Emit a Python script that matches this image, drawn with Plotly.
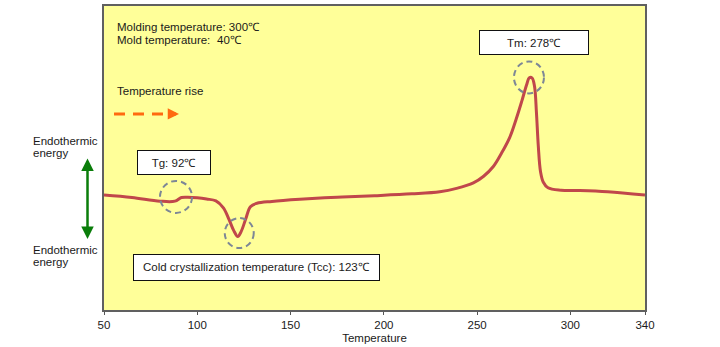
import plotly.graph_objects as go

# ---- data ----
temperature = [50, 65, 80, 88, 91.5, 95, 100, 105, 110, 114, 117, 119.5, 121.7, 123.5, 126, 128.5,
               132, 140, 155, 175, 195, 215, 230, 239, 248, 253.5, 258.7, 263, 267.5, 271, 274, 276.5,
               278, 279.5, 280.8, 281.8, 282.8, 284, 285.5, 288, 295, 305, 320, 340]
heat_flow = [37.8, 37.0, 35.8, 35.8, 37.0, 37.1, 36.9, 36.5, 35.9, 33.6, 29.8, 26.2, 24.2, 25.8, 30.0, 34.0,
             35.1, 35.7, 36.4, 37.1, 37.6, 38.2, 38.9, 40.0, 41.8, 44.0, 47.2, 51.5, 56.8, 62.9, 68.8, 74.0,
             76.4, 76.3, 73.5, 65.0, 54.0, 45.5, 42.0, 40.2, 39.4, 39.3, 38.9, 37.8]
tick_vals = [50, 100, 150, 200, 250, 300, 340]
tick_text = ["50", "100", "150", "200", "250", "300", "340"]

# highlighted events: (temperature, value) of circle centre
tg_point = (88.6, 37.2)
tcc_point = (122.5, 25.3)
tm_point = (277.8, 76.5)

W, H = 720, 347
L, R, T, B = 104, 75, 4, 36
PW, PH = W - L - R, H - T - B

def px(x):
    return (x - L) / PW

def py(y):
    return (H - B - y) / PH

FONT = "Liberation Sans, Arial, sans-serif"
TXT = "#1a1a1a"
FS = 11.5

fig = go.Figure()
fig.add_trace(go.Scatter(x=temperature, y=heat_flow, mode="lines",
                         line=dict(color="#C0474B", width=3, shape="spline", smoothing=1.0),
                         hoverinfo="skip", showlegend=False))

shapes = []
for (cx, cy), (rx, ry) in [(tg_point, (16, 16)), (tcc_point, (14.5, 15)), (tm_point, (15, 16))]:
    shapes.append(dict(type="circle", xref="x", yref="y", xsizemode="pixel", ysizemode="pixel",
                       xanchor=cx, yanchor=cy, x0=-rx, x1=rx, y0=-ry, y1=ry,
                       line=dict(color="#7d8796", width=2, dash="6px,4px")))
# orange dashed arrow shaft
shapes.append(dict(type="line", xref="paper", yref="paper", x0=px(114), x1=px(165),
                   y0=py(113), y1=py(113), line=dict(color="#FF6A10", width=3, dash="11px,8px")))

annotations = []
def txt(s, x, y, anchor="left"):
    annotations.append(dict(text=s, xref="paper", yref="paper", x=px(x), y=py(y), xanchor=anchor,
                            yanchor="middle", showarrow=False, font=dict(family=FONT, size=FS, color=TXT)))

txt("Molding temperature: 300\u2103", 115, 25.7)
txt("Mold temperature:", 115, 38.5)
txt("40\u2103", 215, 38.5)
txt("Temperature rise", 115, 90)
txt("Endothermic", 31, 140)
txt("energy", 31, 152.7)
txt("Endothermic", 31, 250)
txt("energy", 31, 262.7)

def box(s, x0, x1, y0, y1):
    annotations.append(dict(text=s, xref="paper", yref="paper", x=px((x0 + x1) / 2), y=py((y0 + y1) / 2),
                            xanchor="center", yanchor="middle", showarrow=False,
                            width=x1 - x0 - 2, height=y1 - y0 - 2, borderpad=0,
                            bordercolor="#111111", borderwidth=1, bgcolor="white",
                            font=dict(family=FONT, size=FS, color=TXT)))

box("Tg: 92\u2103", 136.7, 210.7, 149.3, 174.3)
box("Tm: 278\u2103", 479, 589.3, 28.3, 53.3)
box("Cold crystallization temperature (Tcc): 123\u2103", 133.3, 380, 255, 281.7)

# orange arrow head
annotations.append(dict(text="", xref="paper", yref="paper", x=px(179), y=py(113), ax=-7, ay=0,
                        showarrow=True, arrowhead=2, arrowsize=0.75, arrowwidth=3, arrowcolor="#FF6A10"))
# green double arrow
annotations.append(dict(text="", xref="paper", yref="paper", x=px(87.5), y=py(158), ax=0, ay=82,
                        showarrow=True, arrowhead=2, startarrowhead=2, arrowside="end+start",
                        arrowsize=1, startarrowsize=1, arrowwidth=2.5, arrowcolor="#0A7D0A"))

fig.update_layout(
    width=W, height=H, margin=dict(l=L, r=R, t=T, b=B),
    paper_bgcolor="white", plot_bgcolor="#FFFF99",
    shapes=shapes, annotations=annotations,
    font=dict(family=FONT, size=11, color=TXT),
    xaxis=dict(range=[50, 340], tickvals=tick_vals, ticktext=tick_text, ticks="outside", ticklen=3,
               tickcolor="#555", showgrid=False, zeroline=False, showline=True, mirror=True,
               linecolor="#606060", linewidth=2, tickfont=dict(family=FONT, size=11.5, color=TXT),
               title=dict(text="Temperature", standoff=4, font=dict(family=FONT, size=11.5, color=TXT))),
    yaxis=dict(range=[0, 100], showticklabels=False, ticks="", showgrid=False, zeroline=False,
               showline=True, mirror=True, linecolor="#606060", linewidth=2),
)

fig.write_html("out.html")
